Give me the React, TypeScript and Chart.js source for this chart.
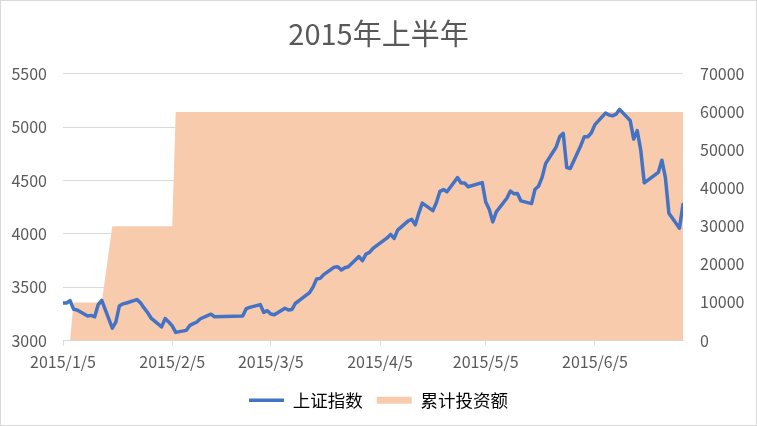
import React, { useRef, useEffect } from 'react';
import { Chart, registerables } from 'chart.js';

Chart.register(...registerables);

// trading days, first half of 2015
const tradeDates = [
  '1/5', '1/6', '1/7', '1/8', '1/9', '1/12', '1/13', '1/14', '1/15', '1/16',
  '1/19', '1/20', '1/21', '1/22', '1/23', '1/26', '1/27', '1/28', '1/29', '1/30',
  '2/2', '2/3', '2/4', '2/5', '2/6', '2/9', '2/10', '2/11', '2/12', '2/13',
  '2/16', '2/17', '2/25', '2/26', '2/27',
  '3/2', '3/3', '3/4', '3/5', '3/6', '3/9', '3/10', '3/11', '3/12', '3/13',
  '3/16', '3/17', '3/18', '3/19', '3/20', '3/23', '3/24', '3/25', '3/26', '3/27',
  '3/30', '3/31',
  '4/1', '4/2', '4/3', '4/7', '4/8', '4/9', '4/10', '4/13', '4/14', '4/15',
  '4/16', '4/17', '4/20', '4/21', '4/22', '4/23', '4/24', '4/27', '4/28', '4/29',
  '4/30',
  '5/4', '5/5', '5/6', '5/7', '5/8', '5/11', '5/12', '5/13', '5/14', '5/15',
  '5/18', '5/19', '5/20', '5/21', '5/22', '5/25', '5/26', '5/27', '5/28', '5/29',
  '6/1', '6/2', '6/3', '6/4', '6/5', '6/8', '6/9', '6/10', '6/11', '6/12',
  '6/15', '6/16', '6/17', '6/18', '6/19', '6/23', '6/24', '6/25', '6/26', '6/29',
  '6/30',
];

// 上证指数 closes
const indexValues = [
  3350.52, 3351.45, 3373.95, 3293.46, 3285.41, 3229.32, 3235.30, 3222.44, 3336.45, 3376.50,
  3116.35, 3173.05, 3323.61, 3343.34, 3351.76, 3383.18, 3352.96, 3305.74, 3262.30, 3210.36,
  3128.30, 3204.91, 3174.13, 3136.53, 3075.91, 3095.12, 3141.59, 3157.70, 3173.42, 3203.83,
  3246.91, 3222.37, 3228.84, 3298.36, 3310.30,
  3336.28, 3263.05, 3279.53, 3248.48, 3241.19, 3302.41, 3286.07, 3290.90, 3349.32, 3372.91,
  3449.30, 3502.85, 3577.30, 3582.27, 3617.32, 3687.73, 3691.41, 3660.73, 3682.09, 3691.10,
  3786.57, 3747.90,
  3810.29, 3825.78, 3863.93, 3961.38, 3994.81, 3957.53, 4034.31, 4121.71, 4135.57, 4084.16,
  4194.82, 4287.30, 4217.08, 4293.62, 4398.49, 4414.51, 4393.69, 4527.40, 4476.21, 4476.62,
  4441.66,
  4480.46, 4298.71, 4229.27, 4112.21, 4205.92, 4333.58, 4401.22, 4375.76, 4378.31, 4308.69,
  4283.49, 4417.55, 4446.29, 4529.42, 4657.60, 4813.80, 4910.90, 4941.71, 4620.27, 4611.74,
  4828.74, 4910.53, 4909.98, 4947.10, 5023.10, 5131.88, 5113.53, 5106.04, 5121.59, 5166.35,
  5062.99, 4887.43, 4967.90, 4785.36, 4478.36, 4576.49, 4690.15, 4527.78, 4192.87, 4053.03,
  4277.22,
];

// 累计投资额
const investValues = [
  0, 0, 0, 10000, 10000, 10000, 10000, 10000, 10000, 10000,
  30000, 30000, 30000, 30000, 30000, 30000, 30000, 30000, 30000, 30000,
  30000, 30000, 30000, 30000, 60000, 60000, 60000, 60000, 60000, 60000,
  60000, 60000, 60000, 60000, 60000,
  60000, 60000, 60000, 60000, 60000, 60000, 60000, 60000, 60000, 60000,
  60000, 60000, 60000, 60000, 60000, 60000, 60000, 60000, 60000, 60000,
  60000, 60000,
  60000, 60000, 60000, 60000, 60000, 60000, 60000, 60000, 60000, 60000,
  60000, 60000, 60000, 60000, 60000, 60000, 60000, 60000, 60000, 60000,
  60000,
  60000, 60000, 60000, 60000, 60000, 60000, 60000, 60000, 60000, 60000,
  60000, 60000, 60000, 60000, 60000, 60000, 60000, 60000, 60000, 60000,
  60000, 60000, 60000, 60000, 60000, 60000, 60000, 60000, 60000, 60000,
  60000, 60000, 60000, 60000, 60000, 60000, 60000, 60000, 60000, 60000,
  60000,
];

const tickLabels = ['2015/1/5', '2015/2/5', '2015/3/5', '2015/4/5', '2015/5/5', '2015/6/5'];
const firstDay = '1/5';
const lastDay = '6/30';

const FONT = '"Noto Sans CJK SC", "Noto Sans", sans-serif';
const GREY = '#595959';
const BLUE = '#4472C4';
const PEACH = '#F8CBAD';

// days since 2015/1/5, so the x axis keeps calendar spacing
const dayOf = (md: string) => {
  const parts = md.split('/').map(Number);
  const [m, d] = parts.length === 3 ? [parts[1], parts[2]] : parts;
  const [m0, d0] = firstDay.split('/').map(Number);
  return (Date.UTC(2015, m - 1, d) - Date.UTC(2015, m0 - 1, d0)) / 86400000;
};

const App: React.FC = () => {
  const chartRef = useRef<HTMLCanvasElement>(null);
  const chartInstance = useRef<Chart | null>(null);

  useEffect(() => {
    document.body.style.margin = '0';
    if (!chartRef.current) return;
    if (chartInstance.current) chartInstance.current.destroy();
    const ctx = chartRef.current.getContext('2d');
    if (!ctx) return;

    const tickDays = tickLabels.map(dayOf);

    chartInstance.current = new Chart(ctx, {
      type: 'line',
      data: {
        datasets: [
          {
            label: '上证指数',
            data: tradeDates.map((d, i) => ({ x: dayOf(d), y: indexValues[i] })),
            borderColor: BLUE,
            backgroundColor: BLUE,
            borderWidth: 3.5,
            borderJoinStyle: 'round',
            borderCapStyle: 'round',
            pointRadius: 0,
            tension: 0,
            yAxisID: 'y',
          },
          {
            label: '累计投资额',
            data: tradeDates.map((d, i) => ({ x: dayOf(d), y: investValues[i] })),
            borderColor: PEACH,
            backgroundColor: PEACH,
            borderWidth: 0,
            pointRadius: 0,
            tension: 0,
            fill: 'origin',
            yAxisID: 'y1',
          },
        ],
      },
      options: {
        responsive: false,
        animation: false,
        layout: { padding: { left: 0, right: 0, top: 0, bottom: 6 } },
        scales: {
          x: {
            type: 'linear',
            min: 0,
            max: dayOf(lastDay),
            afterBuildTicks: (scale: any) => {
              scale.ticks = tickDays.map((v) => ({ value: v }));
            },
            afterFit: (scale: any) => {
              scale.height = 37;
            },
            ticks: {
              color: GREY,
              font: { family: FONT, size: 16 },
              maxRotation: 0,
              autoSkip: false,
              padding: 7,
              callback: (v: any) => {
                const i = tickDays.indexOf(Number(v));
                return i >= 0 ? tickLabels[i] : '';
              },
            },
            grid: { drawOnChartArea: false, tickLength: 5, color: '#D9D9D9' },
            border: { color: '#D9D9D9' },
          },
          y: {
            position: 'left',
            min: 3000,
            max: 5500,
            afterFit: (scale: any) => {
              scale.width = 62;
            },
            ticks: {
              stepSize: 500,
              color: GREY,
              padding: 16,
              font: { family: FONT, size: 16 },
              callback: (v: any) => String(v),
            },
            grid: { color: '#D9D9D9', drawTicks: false },
            border: { display: false },
          },
          y1: {
            position: 'right',
            min: 0,
            max: 70000,
            afterFit: (scale: any) => {
              scale.width = 73;
            },
            ticks: {
              stepSize: 10000,
              color: GREY,
              padding: 17,
              font: { family: FONT, size: 16 },
              callback: (v: any) => String(v),
            },
            grid: { drawOnChartArea: false, drawTicks: false },
            border: { display: false },
          },
        },
        plugins: {
          title: {
            display: true,
            text: '2015年上半年',
            color: GREY,
            font: { family: FONT, size: 29, weight: 'normal', lineHeight: 1.2 },
            padding: { top: 16, bottom: 22 },
          },
          legend: {
            position: 'bottom',
            labels: {
              color: GREY,
              font: { family: FONT, size: 17.5 },
              usePointStyle: true,
              pointStyleWidth: 35,
              boxHeight: 7,
              padding: 14,
              generateLabels: () => [
                {
                  text: '上证指数',
                  fillStyle: BLUE,
                  strokeStyle: BLUE,
                  lineWidth: 3.5,
                  pointStyle: 'line',
                  datasetIndex: 0,
                  hidden: false,
                },
                {
                  text: '累计投资额',
                  fillStyle: PEACH,
                  strokeStyle: PEACH,
                  lineWidth: 0,
                  pointStyle: 'rect',
                  datasetIndex: 1,
                  hidden: false,
                },
              ],
            },
          },
          tooltip: { enabled: false },
        },
      } as any,
    });

    return () => {
      if (chartInstance.current) {
        chartInstance.current.destroy();
        chartInstance.current = null;
      }
    };
  }, []);

  return (
    <div
      style={{
        width: 757,
        height: 426,
        boxSizing: 'border-box',
        border: '1px solid #D9D9D9',
        background: '#fff',
      }}
    >
      <canvas ref={chartRef} width={755} height={424} style={{ display: 'block' }}></canvas>
    </div>
  );
};

export default App;
